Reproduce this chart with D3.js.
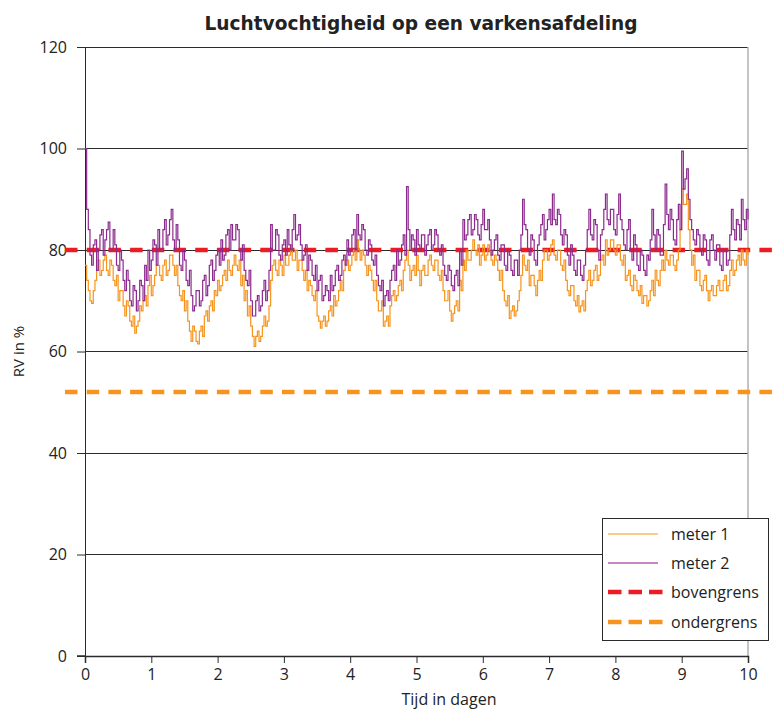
<!DOCTYPE html>
<html>
<head>
<meta charset="utf-8">
<script src="https://cdn.jsdelivr.net/npm/d3@7"></script>
<style>
  html, body { margin: 0; padding: 0; background: #fff; }
  svg { display: block; }
</style>
</head>
<body>
<svg id="chart" width="776" height="712"></svg>
<script>
// ---- data ----
const titel = "Luchtvochtigheid op een varkensafdeling";
const xTitel = "Tijd in dagen";
const yTitel = "RV in %";
const xTicks = [0,1,2,3,4,5,6,7,8,9,10];
const yTicks = [0,20,40,60,80,100,120];
const stapDagen = 0.05; // interval of the main readings, in days
const bovengrens = 80;
const ondergrens = 52;
const reeksNamen = ["meter 1", "meter 2", "bovengrens", "ondergrens"];

// readings at t = 0, 0.05, 0.10 ... 10 days
const meter1 = [
  77,72,69.5,74,78,76,79,75,77,73,
  70,72,67,69,65,63.6,66,68,71,73,
  71,75,77,74,78,76,79,75,73,70,
  68,66,62,64,61.5,65,67,66,70,72,
  74,73,76,78,75,79,76,73,70,67,
  65,61,64,63,67,66,74,78,75,77,
  79,77,81,78,76,78,74,72,73,70,
  67,64.6,67,66,69,71,70,74,76,78,
  77,80,82,78,79,75,76,72,70,68,
  65,67,69,72,71,74,76,80,74,77,
  79,73,77,75,79,76,78,74,72,70,
  68,67.5,70,74,78,80,78,82,79,77,
  81,79,80,77,78,74,72,69,66.5,69,
  68,72,79,76,73,75,71,76,78,80,
  79,82,78,80,76,74,71,73,69,67.8,
  70,72,76,74,77,75,79,82,80,82,
  79,81,77,74,76,72,74,71,69.5,71,
  70,74,76,73,78,80,77,79,76,80,
  92,89,84,77,74,76,72,75,70,73,
  71,74,72,75,73,78,76,79,80,77,
  79
];
// readings half-way between them (t = 0.025, 0.075 ...)
const meter1Tussen = [
  74,70,72,76,75,78,76,78,74,75,
  72,69,70,66,67,65,69,70,69,75,
  73,77,75,77,75,79,77,77,71,72,
  70,64,65,62,64,63,68,69,68,71,
  72,75,74,76,77,77,78,75,72,69,
  63,63,62,65,65,69,77,76,78,75,
  77,79,78,80,78,76,76,74,71,72,
  66,66,65,68,67,69,72,72,78,76,
  79,78,80,80,77,77,74,74,68,70,
  66,65,71,70,73,72,78,77,76,75,
  76,76,75,78,77,78,75,76,70,72,
  66,69,68,72,76,78,80,80,81,79,
  78,81,78,79,76,76,70,71,68,67,
  70,75,77,78,75,73,74,74,80,78,
  81,79,80,77,78,72,73,70,71,69,
  68,74,73,76,74,78,77,79,82,80,
  81,78,79,75,73,75,72,73,71,69,
  72,71,74,76,76,78,79,77,78,84,
  89,91,80,79,76,73,74,72,72,71,
  73,72,74,72,76,75,78,77,78,80
];
const meter2 = [
  100,84,77,82,80,84,82,85.5,80,81,
  76,78,72,74,69,72,70,73,77,80,
  78,81,84,80,86,83,88,80,82,76,
  78,73,71,69,72,70,75,73,78,76,
  80,82,79,84,85,82,84,78,76,73,
  70,67,71,69,74,72,85,80,83,78,
  82,84,80,87,83,81,79,76,78,74,
  72,75,71,72,75,73,77,75,79,82,
  80,84,87,82,84,79,81,77,75,72,
  69,72,74,77,80,78,83,92.5,80,82,
  84,80,83,81,84,81,83,79,77,74,
  76,72,76,80,86,83,87,84,86,82,
  88,84,82,80,83,78,81,76,79,75,
  78,80,90,84,79,82,77,83,87,84,
  88,91,85,87,81,83,77,79,75,78,
  74,80,88,82,85,78,84,91,85,88,
  83,91,84,80,86,78,81,76,79,75,
  78,88,80,83,79,93,84,86,81,89,
  99.5,94,90,84,81,83,79,82,77,83,
  78,81,76,80,78,88,82,85,90,84,
  86
];
const meter2Tussen = [
  88,79,81,76,83,79,84,80,84,77,
  80,74,76,70,73,68,74,70,74,76,
  82,77,80,84,81,86,82,85,77,80,
  74,76,68,72,69,74,71,77,74,79,
  77,78,83,80,82,85,80,81,74,76,
  67,70,68,72,70,76,80,84,79,81,
  79,81,84,82,85,78,81,79,75,77,
  74,70,73,70,72,76,74,78,77,79,
  83,80,83,85,80,82,78,79,73,74,
  71,70,76,74,77,81,79,84,83,79,
  81,83,79,83,80,84,80,81,75,77,
  73,75,73,77,82,86,83,87,83,85,
  84,86,79,82,79,81,77,80,76,78,
  75,83,85,80,83,78,81,85,82,86,
  85,86,88,83,84,79,81,76,78,75,
  77,84,83,86,80,83,88,86,88,84,
  87,86,81,84,80,83,77,80,76,79,
  82,83,84,79,85,87,88,82,86,84,
  92,96,86,82,84,80,83,78,82,80,
  81,77,80,77,83,84,86,82,86,88
];

// ---- styles ----
const kleurMeter1 = "#f7941d";
const kleurMeter1Leg = "#fbb867";
const kleurMeter2 = "#8c2a8e";
const kleurMeter2Leg = "#b060b0";
const kleurBoven = "#ed1c24";
const kleurOnder = "#f7941d";
const font = "'Open Sans', 'DejaVu Sans', sans-serif";
const titleFont = "'DejaVu Sans Condensed', 'Liberation Sans Narrow', 'DejaVu Sans', sans-serif";

function samenvoegen(hoofd, tussen) {
  const uit = [];
  hoofd.forEach((v, i) => {
    uit.push({t: i * stapDagen, v: v});
    if (i < tussen.length) uit.push({t: (i + 0.5) * stapDagen, v: tussen[i]});
  });
  return uit;
}
const reeks1 = samenvoegen(meter1, meter1Tussen);
const reeks2 = samenvoegen(meter2, meter2Tussen);

const svg = d3.select("#chart");
const x = d3.scaleLinear().domain([0, 10]).range([85, 748]);
const y = d3.scaleLinear().domain([0, 120]).range([656, 47]);

// Title
svg.append("text")
  .attr("x", 421).attr("y", 30)
  .attr("text-anchor", "middle")
  .attr("font-family", titleFont)
  .attr("font-weight", "bold")
  .attr("font-size", 20)
  .attr("fill", "#222")
  .attr("textLength", 433)
  .attr("lengthAdjust", "spacingAndGlyphs")
  .text(titel);

// Gridlines (horizontal)
svg.append("g").selectAll("line")
  .data(yTicks.filter(d => d > 0))
  .join("line")
  .attr("x1", x(0)).attr("x2", x(10))
  .attr("y1", d => y(d)).attr("y2", d => y(d))
  .attr("stroke", "#2b2b2b").attr("stroke-width", 1)
  .attr("shape-rendering", "crispEdges");

// Right border
svg.append("line")
  .attr("x1", x(10)).attr("x2", x(10))
  .attr("y1", y(120)).attr("y2", y(0))
  .attr("stroke", "#b0b0b0").attr("stroke-width", 1.5);

// Y axis
const yAxis = d3.axisLeft(y).tickValues(yTicks).tickSize(8).tickPadding(10).tickFormat(d3.format("d"));
const gy = svg.append("g").attr("transform", `translate(${x(0)},0)`).call(yAxis);
gy.select(".domain").attr("stroke", "#2b2b2b");
gy.selectAll(".tick line").attr("stroke", "#2b2b2b");
gy.selectAll(".tick text").attr("font-family", font).attr("font-size", 16).attr("fill", "#222");

// X axis
const xAxis = d3.axisBottom(x).tickValues(xTicks).tickSize(7).tickPadding(6).tickFormat(d3.format("d"));
const gx = svg.append("g").attr("transform", `translate(0,${y(0)})`).call(xAxis);
gx.select(".domain").attr("stroke", "#2b2b2b").attr("stroke-width", 1.5);
gx.selectAll(".tick line").attr("stroke", "#2b2b2b");
gx.selectAll(".tick text").attr("font-family", font).attr("font-size", 16).attr("fill", "#222");
svg.append("line").attr("x1", 77).attr("x2", x(0)).attr("y1", y(0)).attr("y2", y(0))
  .attr("stroke", "#2b2b2b").attr("stroke-width", 1.5);

// Axis titles
svg.append("text")
  .attr("x", 449).attr("y", 705)
  .attr("text-anchor", "middle")
  .attr("font-family", font).attr("font-size", 16).attr("fill", "#222")
  .text(xTitel);
svg.append("text")
  .attr("transform", `translate(24,${(y(0)+y(120))/2}) rotate(-90)`)
  .attr("text-anchor", "middle")
  .attr("font-family", font).attr("font-size", 15).attr("fill", "#222")
  .text(yTitel);

// Limit lines (dashed), extending beyond the plot
const grenzen = [
  {v: ondergrens, kleur: kleurOnder},
  {v: bovengrens, kleur: kleurBoven}
];
svg.append("g").selectAll("line")
  .data(grenzen)
  .join("line")
  .attr("x1", 65).attr("x2", 776)
  .attr("y1", d => y(d.v)).attr("y2", d => y(d.v))
  .attr("stroke", d => d.kleur)
  .attr("stroke-width", 4.5)
  .attr("stroke-dasharray", "12.5 9.2");

// Data lines
const lijn = d3.line()
  .x(d => x(d.t))
  .y(d => y(d.v))
  .curve(d3.curveStepAfter);

svg.append("path")
  .datum(reeks1)
  .attr("d", lijn)
  .attr("fill", "none")
  .attr("stroke", kleurMeter1)
  .attr("stroke-width", 1.2);

svg.append("path")
  .datum(reeks2)
  .attr("d", lijn)
  .attr("fill", "none")
  .attr("stroke", kleurMeter2)
  .attr("stroke-width", 1.2);

// Legend
const leg = svg.append("g");
leg.append("rect")
  .attr("x", 602.5).attr("y", 518.5).attr("width", 166).attr("height", 122)
  .attr("fill", "#fff").attr("stroke", "#2b2b2b").attr("stroke-width", 1);
const legItems = [
  {naam: reeksNamen[0], kleur: kleurMeter1Leg, w: 1.3, dash: null, y: 534},
  {naam: reeksNamen[1], kleur: kleurMeter2Leg, w: 1.3, dash: null, y: 563},
  {naam: reeksNamen[2], kleur: kleurBoven, w: 4.5, dash: "13.5 7", y: 592},
  {naam: reeksNamen[3], kleur: kleurOnder, w: 4.5, dash: "13.5 7", y: 622}
];
const li = leg.selectAll("g.item").data(legItems).join("g").attr("class", "item");
li.append("line")
  .attr("x1", 608).attr("x2", d => d.dash ? 664 : 658)
  .attr("y1", d => d.y).attr("y2", d => d.y)
  .attr("stroke", d => d.kleur).attr("stroke-width", d => d.w)
  .attr("stroke-dasharray", d => d.dash);
li.append("text")
  .attr("x", 671).attr("y", d => d.y + 5.5)
  .attr("font-family", font).attr("font-size", 16).attr("fill", "#222")
  .text(d => d.naam);
</script>
</body>
</html>
